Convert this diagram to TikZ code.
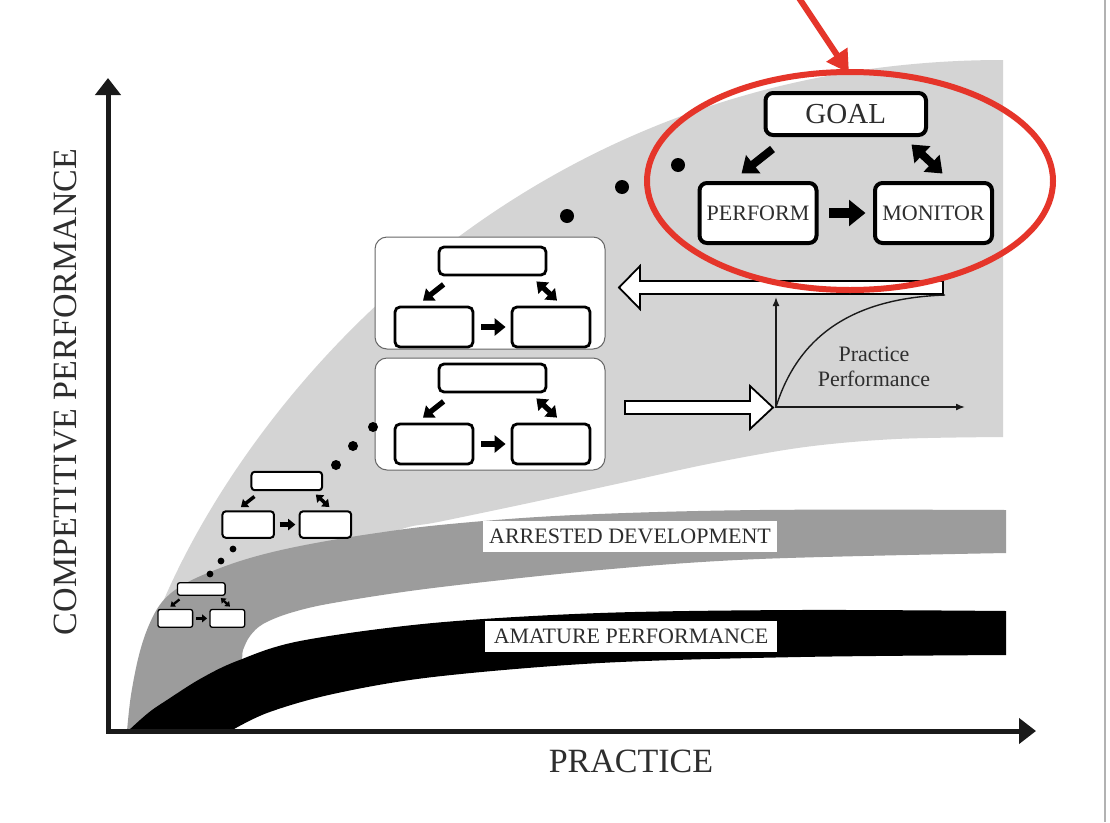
\documentclass[tikz,border=0pt]{standalone}
\usepackage{fontspec}
\setmainfont{Liberation Serif}
\usetikzlibrary{arrows.meta,calc}
\definecolor{lgray}{HTML}{D4D4D4}
\definecolor{dgray}{HTML}{9C9C9C}
\definecolor{txt}{HTML}{2E2E2E}
\definecolor{redline}{HTML}{E5352A}
\definecolor{axisc}{HTML}{1A1A1A}
\newcommand{\cycset}[8]{%
  \pgfmathsetlengthmacro{\cyTW}{107pt*#4}%
  \pgfmathsetlengthmacro{\cyTH}{28pt*#4}%
  \pgfmathsetlengthmacro{\cyBW}{78pt*#4}%
  \pgfmathsetlengthmacro{\cyBH}{40pt*#4}%
  \pgfmathsetlengthmacro{\cyRC}{5pt*#4}%
  \pgfmathsetlengthmacro{\cyDW}{5.3pt*#4}%
  \pgfmathsetlengthmacro{\cyDL}{10pt*#4}%
  \pgfmathsetlengthmacro{\cyDH}{15pt*#4}%
  \pgfmathsetlengthmacro{\cyHW}{6.5pt*#4}%
  \pgfmathsetlengthmacro{\cyHL}{11pt*#4}%
  \pgfmathsetlengthmacro{\cyHH}{17pt*#4}%
  \pgfmathsetlengthmacro{\cySa}{7pt*#4}%
  \pgfmathsetlengthmacro{\cySb}{5pt*#4}%
  \node[cbox, line width=#5, rounded corners=\cyRC, minimum width=\cyTW, minimum height=\cyTH] (#1t) at (#2,#3) {#6};
  \node[cbox, line width=#5, rounded corners=\cyRC, minimum width=\cyBW, minimum height=\cyBH] (#1l) at ($(#1t.center)+(-58.5*#4,66*#4)$) {#7};
  \node[cbox, line width=#5, rounded corners=\cyRC, minimum width=\cyBW, minimum height=\cyBH] (#1r) at ($(#1t.center)+(58.5*#4,66*#4)$) {#8};
  \draw[line width=\cyDW, -{Triangle[length=\cyDL,width=\cyDH]}] ($(#1t.south west)+(6*#4,8*#4)$) -- ($(#1l.north)+(-11*#4,-5*#4)$);
  \draw[line width=\cyDW, {Triangle[length=\cyDL,width=\cyDH]}-{Triangle[length=\cyDL,width=\cyDH]}] ($(#1t.south east)+(-11*#4,5*#4)$) -- ($(#1r.north)+(6*#4,-5*#4)$);
  \draw[line width=\cyHW, -{Triangle[length=\cyHL,width=\cyHH]}, shorten <=\cySa, shorten >=\cySb] (#1l.east) -- (#1r.west);
}
\begin{document}
\begin{tikzpicture}[x=1pt,y=-1pt,
  cbox/.style={draw=black, fill=white, inner sep=0pt, text=txt},
  bandlabel/.style={fill=white, inner sep=0pt, minimum height=31pt, text=txt, font=\fontsize{22}{26}\selectfont},
  panelbox/.style={draw=black!60, line width=1pt, fill=white, rounded corners=12pt, minimum width=230pt, minimum height=112pt, inner sep=0pt},
  hollow/.style={draw=black, line width=1.8pt, fill=white, line join=miter},
  dotc/.style={fill=black}
]
\useasboundingbox (0,0) rectangle (1110,822);
\fill[white] (0,0) rectangle (1110,822);
\draw[black!30, line width=1.2pt] (1105,0) -- (1105,822);

% light grey region
\fill[lgray] (128,731) .. controls (135,560) and (420,60) .. (1003,60)
  -- (1003,437)
  -- plot[smooth, tension=0.55] coordinates {(1003,437) (896,439) (805,447) (713,463) (621,483) (529,503) (438,522) (405,528) (350,548) (280,578) (200,625) (150,690) (129,731)} -- cycle;

% dark grey band
\fill[dgray] plot[smooth, tension=0.6] coordinates {(127,731) (131,695) (139,655) (149,625) (162,602) (181,586) (210,572) (250,558) (300,546) (370,534) (450,524) (575,515) (759,510) (1006,510)}
  -- (1006,553)
  -- plot[smooth, tension=0.55] coordinates {(1006,553) (759,559) (600,570) (433,588) (333,603) (290,613) (263,624) (250,636) (243,650) (239,664) (210,686) (160,716) (128,733)} -- cycle;

% black band
\fill[black] plot[smooth, tension=0.55] coordinates {(128,731) (140,720) (152,710) (167,700) (200,679) (237,661) (300,641) (433,623) (600,613) (800,610) (1006,611)}
  -- (1006,655)
  -- plot[smooth, tension=0.55] coordinates {(1006,655) (800,657) (600,663) (433,677) (333,694) (267,713) (227,733)} -- cycle;

% band labels
\node[bandlabel, minimum width=294pt] (arrested) at (630,536.5) {ARRESTED DEVELOPMENT};
\node[bandlabel, minimum width=292pt] (amature) at (631,636.5) {AMATURE PERFORMANCE};

% axes
\coordinate (O) at (108,731);
\coordinate (ytop) at (108,78);
\coordinate (xend) at (1036,731);
\draw[axisc, line width=5pt, line join=miter, {Triangle[length=17pt,width=25pt]}-{Triangle[length=17pt,width=25pt]}] (ytop) -- (O) -- (xend);
\node[text=txt, font=\fontsize{34}{40}\selectfont, rotate=90] (ylab) at (66,392) {COMPETITIVE PERFORMANCE};
\node[text=txt, font=\fontsize{34}{40}\selectfont] (xlab) at (631,761) {PRACTICE};

% panels
\node[panelbox] (panelA) at (490,293) {};
\node[panelbox] (panelB) at (490,414) {};
\cycset{pa}{492.5}{261}{1}{2.8pt}{}{}{}
\cycset{pb}{492.5}{378}{1}{2.8pt}{}{}{}
\cycset{sc}{286.8}{481}{0.66}{2pt}{}{}{}
\cycset{sd}{201.3}{589}{0.445}{1.3pt}{}{}{}
\cycset{mg}{845.75}{114}{1.5}{4pt}{\fontsize{29}{32}\selectfont GOAL}{\fontsize{22}{26}\selectfont PERFORM}{\fontsize{22}{26}\selectfont MONITOR}

% dots
\fill[dotc] (567,216) circle[radius=7pt];
\fill[dotc] (622,187) circle[radius=7pt];
\fill[dotc] (678,165) circle[radius=7pt];
\fill[dotc] (373,427) circle[radius=5pt];
\fill[dotc] (353,446) circle[radius=5pt];
\fill[dotc] (336,465) circle[radius=5pt];
\fill[dotc] (210,574) circle[radius=3.4pt];
\fill[dotc] (221,561) circle[radius=3.4pt];
\fill[dotc] (233,549) circle[radius=3.4pt];

% hollow arrows
\draw[hollow] (943,281) -- (640,281) -- (640,266) -- (619,287.5) -- (640,309) -- (640,294) -- (943,294) -- cycle;
\draw[hollow] (625,401) -- (750,401) -- (750,386) -- (773,407.5) -- (750,429) -- (750,414) -- (625,414) -- cycle;

% inset graph
\coordinate (io) at (776,407);
\coordinate (itop) at (776,297);
\coordinate (iright) at (965,407);
\coordinate (iend) at (945,295);
\draw[axisc, line width=1.5pt, {Latex[length=9pt,width=7pt]}-{Latex[length=9pt,width=7pt]}] (itop) -- (io) -- (iright);
\draw[axisc, line width=1.4pt] (io) .. controls (800,330) and (860,298) .. (iend);
\node[text=txt, font=\fontsize{22}{25}\selectfont, align=center] (ipp) at (874,367) {Practice\\Performance};

% red highlight
\coordinate (rstart) at (797,-5);
\coordinate (rtip) at (849,73);
\draw[redline, line width=6pt] (850,181) ellipse[x radius=203pt, y radius=109pt];
\draw[redline, line width=6pt, -{Triangle[length=22pt,width=24pt]}] (rstart) -- (rtip);
\end{tikzpicture}
\end{document}
